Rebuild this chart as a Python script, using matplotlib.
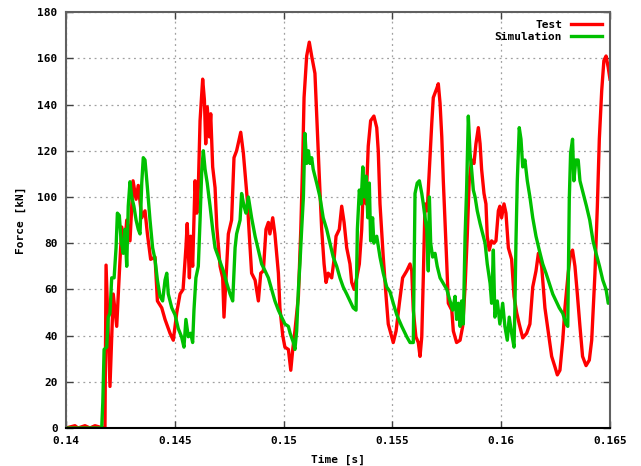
import matplotlib
matplotlib.use("Agg")
import matplotlib.pyplot as plt
import numpy as np

# Time in ms, force in kN
test_time_ms = [
    140.00, 140.41, 140.55, 140.87, 141.10, 141.33, 141.70, 141.79, 141.84, 142.02,
    142.17, 142.33, 142.45, 142.56, 142.71, 142.79, 142.94, 143.08, 143.22, 143.32,
    143.48, 143.63, 143.74, 143.89, 144.09, 144.20, 144.40, 144.55, 144.78, 144.93,
    145.09, 145.24, 145.38, 145.51, 145.57, 145.67, 145.73, 145.82, 145.93, 146.01,
    146.08, 146.16, 146.28, 146.36, 146.42, 146.49, 146.59, 146.65, 146.74, 146.85,
    146.93, 147.08, 147.20, 147.26, 147.35, 147.46, 147.61, 147.72, 147.84, 148.03,
    148.15, 148.23, 148.33, 148.42, 148.53, 148.69, 148.84, 148.95, 149.07, 149.19,
    149.30, 149.37, 149.50, 149.60, 149.76, 149.83, 149.96, 150.06, 150.22, 150.33,
    150.42, 150.52, 150.68, 150.79, 150.88, 150.94, 151.06, 151.18, 151.29, 151.44,
    151.55, 151.64, 151.75, 151.86, 151.95, 152.05, 152.21, 152.32, 152.41, 152.56,
    152.67, 152.78, 152.90, 153.05, 153.13, 153.24, 153.36, 153.48, 153.59, 153.66,
    153.79, 153.89, 154.00, 154.15, 154.28, 154.35, 154.43, 154.58, 154.71, 154.81,
    154.97, 155.04, 155.17, 155.32, 155.47, 155.66, 155.81, 155.89, 155.96, 156.08,
    156.19, 156.27, 156.35, 156.42, 156.50, 156.60, 156.70, 156.81, 156.88, 157.04,
    157.11, 157.19, 157.27, 157.34, 157.42, 157.50, 157.57, 157.73, 157.80, 157.95,
    158.11, 158.23, 158.34, 158.44, 158.53, 158.64, 158.75, 158.84, 158.95, 159.03,
    159.10, 159.21, 159.30, 159.36, 159.45, 159.56, 159.67, 159.76, 159.87, 159.94,
    160.02, 160.13, 160.22, 160.33, 160.48, 160.59, 160.71, 160.83, 160.99, 161.17,
    161.32, 161.45, 161.60, 161.71, 161.86, 162.01, 162.16, 162.32, 162.47, 162.58,
    162.70, 162.83, 162.93, 163.08, 163.19, 163.28, 163.39, 163.50, 163.62, 163.74,
    163.90, 164.05, 164.16, 164.31, 164.42, 164.51, 164.62, 164.72, 164.82, 164.92,
    165.00,
]
test_force = [
    0, 1, 0, 1, 0, 1, 0, 0, 70.5, 18,
    58, 44, 67, 87, 80, 90, 81, 107, 99, 105,
    91, 94, 84, 73, 74, 55, 52, 47, 41, 38,
    50, 58, 60, 78, 88.5, 65, 83, 70, 107, 93,
    104, 133, 151, 142, 123, 139, 126, 136, 113, 104,
    87, 70, 65, 48, 64, 84, 90, 117, 120, 128,
    119, 110, 99, 84, 67, 64, 55, 67, 68, 86,
    89, 84, 91, 84, 67, 52, 40, 35, 34, 25,
    34, 42, 57, 86, 117, 143, 161, 167, 161, 153.5,
    129, 109, 86, 71, 63, 67, 65, 73, 83, 86,
    96, 89, 78, 71, 63, 60, 65, 71, 86, 103,
    97, 122, 133, 135, 130, 120, 97, 74, 57, 45,
    39.5, 37, 42, 54, 65, 68, 71, 68, 51, 39.5,
    37, 31, 39.5, 65, 97, 94, 112, 132, 143, 147,
    149, 140.6, 126, 107, 89, 71, 54, 51, 42, 37,
    38, 44, 61, 83, 107, 116, 114.5, 123, 130, 123,
    112, 101.5, 97, 83, 77, 81, 80, 81, 94, 96,
    91, 97, 93, 78, 73, 57, 50, 45, 39, 41,
    45, 61, 68, 75.6, 70, 52, 42, 31, 26.5, 23,
    25, 38, 52, 67, 75.6, 77, 70, 58, 44, 31,
    27, 29.4, 38, 67, 96, 125, 146, 159, 161, 156,
    151,
]

sim_time_ms = [
    140.00, 141.64, 141.69, 141.75, 141.87, 141.94, 142.02, 142.10, 142.21, 142.30,
    142.36, 142.45, 142.53, 142.63, 142.71, 142.79, 142.86, 142.94, 143.02, 143.12,
    143.22, 143.32, 143.40, 143.48, 143.55, 143.63, 143.74, 143.86, 143.98, 144.09,
    144.20, 144.32, 144.44, 144.55, 144.63, 144.70, 144.86, 145.01, 145.16, 145.31,
    145.42, 145.51, 145.62, 145.73, 145.82, 145.88, 145.97, 146.08, 146.16, 146.24,
    146.31, 146.39, 146.49, 146.62, 146.74, 146.85, 147.00, 147.11, 147.23, 147.39,
    147.54, 147.66, 147.77, 147.84, 147.92, 148.00, 148.07, 148.18, 148.27, 148.38,
    148.53, 148.69, 148.84, 148.99, 149.15, 149.30, 149.45, 149.60, 149.76, 149.91,
    150.06, 150.22, 150.30, 150.45, 150.52, 150.60, 150.68, 150.75, 150.83, 150.91,
    150.98, 151.06, 151.14, 151.21, 151.29, 151.36, 151.52, 151.67, 151.82, 151.98,
    152.13, 152.28, 152.44, 152.59, 152.74, 152.90, 153.05, 153.20, 153.33, 153.39,
    153.48, 153.56, 153.64, 153.71, 153.79, 153.87, 153.94, 154.00, 154.09, 154.15,
    154.28, 154.43, 154.58, 154.74, 154.89, 155.04, 155.20, 155.43, 155.66, 155.81,
    155.96, 156.04, 156.14, 156.24, 156.35, 156.42, 156.50, 156.58, 156.65, 156.70,
    156.76, 156.85, 156.96, 157.06, 157.19, 157.34, 157.50, 157.65, 157.77, 157.88,
    157.95, 158.03, 158.11, 158.18, 158.26, 158.34, 158.41, 158.49, 158.57, 158.64,
    158.72, 158.80, 158.90, 159.03, 159.15, 159.26, 159.36, 159.49, 159.56, 159.64,
    159.71, 159.82, 159.94, 160.07, 160.17, 160.28, 160.37, 160.48, 160.59, 160.63,
    160.68, 160.74, 160.83, 160.91, 160.99, 161.09, 161.20, 161.32, 161.45, 161.60,
    161.75, 161.91, 162.06, 162.21, 162.37, 162.52, 162.67, 162.83, 162.98, 163.06,
    163.09, 163.13, 163.19, 163.28, 163.34, 163.43, 163.54, 163.62, 163.77, 163.92,
    164.07, 164.22, 164.36, 164.52, 164.67, 164.82, 164.92, 165.00,
]
sim_force = [
    0, 0, 11, 34, 35, 48, 49.6, 65, 65, 78,
    93, 92, 81, 75.6, 86, 70, 96, 106.6, 100, 96,
    90, 86, 84, 106, 117, 116, 104, 90, 78, 73,
    64, 57, 55, 64, 67, 58, 52, 49, 43, 39.5,
    35, 47, 39.5, 41, 37, 51, 65, 70, 90, 112,
    120, 112, 106, 96, 86, 78, 74, 71, 68, 62.6,
    58, 55, 78, 84, 87, 90, 101.5, 96, 93, 100,
    91, 83, 77, 71, 68, 65, 60, 55, 51, 48,
    45, 44, 41, 37, 34, 42, 60, 71, 86, 100,
    127.5, 114.5, 120, 114.5, 117, 112, 106, 100, 91, 86,
    80, 74, 70, 65, 61, 58, 55, 52, 51, 86,
    103, 97, 113, 100, 109, 91, 106, 81, 91, 80,
    83, 74, 67, 61, 59, 54, 49, 44, 39.5, 37,
    37, 101.5, 106, 107, 101.5, 97, 91, 86, 68, 100,
    80, 74, 75.6, 70, 65, 62.6, 60, 55, 51, 57,
    47, 54, 44, 55, 45, 83, 103, 135, 119, 112,
    103, 100, 94, 88.5, 84, 80, 71, 62.6, 54, 77,
    48, 55, 45, 54, 44, 38, 48, 41, 35, 52,
    81, 107, 130, 125, 113, 116, 107, 100, 91, 83,
    77, 71, 67, 62.6, 58, 55, 52, 49.6, 45, 44,
    67, 99, 119, 125, 107, 116, 116, 107, 101.5, 96,
    90, 81, 75.6, 70, 64, 60, 54, 55,
]

x_ticks = [0.14, 0.145, 0.15, 0.155, 0.16, 0.165]
x_tick_labels = ["0.14", "0.145", "0.15", "0.155", "0.16", "0.165"]
y_ticks = list(range(0, 181, 20))

FONT = "DejaVu Sans Mono"

fig = plt.figure(figsize=(6.41, 4.66), dpi=100)
ax = fig.add_axes([0.103, 0.0815, 0.8486, 0.8925])

ax.plot(np.array(test_time_ms) / 1000, test_force, color="#ff0000",
        linewidth=2.4, label="Test")
ax.plot(np.array(sim_time_ms) / 1000, sim_force, color="#00c000",
        linewidth=2.4, label="Simulation")

ax.set_xlim(0.14, 0.165)
ax.set_ylim(0, 180)
ax.set_xticks(x_ticks)
ax.set_xticklabels(x_tick_labels)
ax.set_yticks(y_ticks)

ax.grid(True, linestyle=(0, (1.5, 3)), color="#a0a0a0", linewidth=0.9)
ax.tick_params(direction="in", top=True, right=True, length=5, width=1,
               colors="#404040", labelcolor="black", pad=6)
for label in ax.get_xticklabels() + ax.get_yticklabels():
    label.set_fontfamily(FONT)
    label.set_fontweight("bold")
    label.set_fontsize(8)
for side in ax.spines.values():
    side.set_color("#606060")
    side.set_linewidth(1.5)
ax.spines["bottom"].set_color("black")

ax.set_xlabel("Time [s]", fontfamily=FONT, fontweight="bold", fontsize=8, labelpad=6)
ax.set_ylabel("Force [kN]", fontfamily=FONT, fontweight="bold", fontsize=8, labelpad=8)

ax.legend(loc="upper right", frameon=False, markerfirst=False,
          prop={"family": FONT, "weight": "bold", "size": 8},
          handlelength=2.8, labelspacing=0.2, borderaxespad=0.3)

fig.savefig("out.png", dpi=100)
